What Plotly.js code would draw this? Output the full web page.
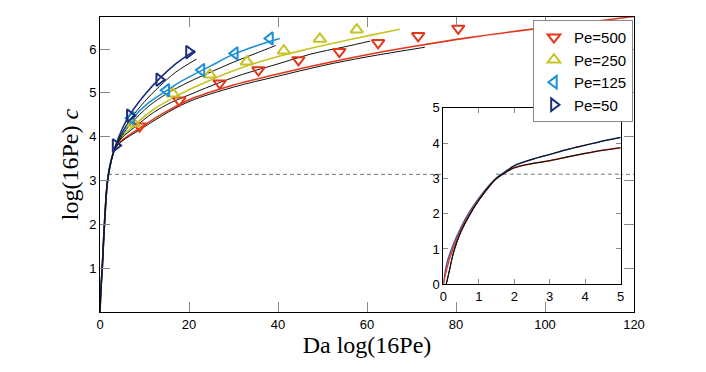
<!DOCTYPE html>
<html>
<head>
<meta charset="utf-8">
<script src="https://cdn.plot.ly/plotly-3.0.1.min.js"></script>
<style>
  body { margin: 0; background: #fff; }
  #chart { width: 706px; height: 372px; }
</style>
</head>
<body>
<div id="chart"></div>
<script>
// main curves (x = Da log(16Pe), y = log(16Pe) c)
const startX = [0, 0.2, 0.5, 1.0, 1.7, 2.5];
const startY = [0, 0.5, 1.0, 2.0, 3.0, 3.45];

const pe50X = [3.5, 5, 6.7, 10, 13.4, 17, 21.3];
const pe50Y = [3.8, 4.18, 4.5, 4.95, 5.33, 5.66, 5.97];
const pe50BlackX = [3.5, 5, 6.7, 10, 13.4, 17, 21.7];
const pe50BlackY = [3.78, 4.1, 4.38, 4.8, 5.15, 5.47, 5.77];

const pe125X = [3.5, 5, 7, 11, 15, 18, 21.7, 25, 29.6, 35, 40.4];
const pe125Y = [3.78, 4.08, 4.38, 4.78, 5.05, 5.25, 5.45, 5.62, 5.86, 6.07, 6.24];
const pe125BlackX = [3.5, 5, 7, 11, 15, 20, 25, 30, 35, 39.5];
const pe125BlackY = [3.76, 4.03, 4.3, 4.7, 4.98, 5.25, 5.48, 5.7, 5.9, 6.08];

const pe250X = [3.5, 5, 7.6, 12, 16.4, 20.2, 25, 32.6, 40, 47.2, 55, 62, 67.4];
const pe250Y = [3.77, 4.0, 4.25, 4.62, 4.88, 5.08, 5.3, 5.6, 5.83, 6.01, 6.19, 6.34, 6.45];
const pe250BlackX = [3.5, 5, 7.6, 12, 16, 20.2, 25, 32, 40, 47.2, 55, 60.7];
const pe250BlackY = [3.76, 3.98, 4.2, 4.55, 4.78, 4.96, 5.16, 5.42, 5.66, 5.88, 6.05, 6.18];

const pe500X = [3.5, 5, 9, 14, 20.2, 24.3, 30, 40, 47.2, 60, 70, 83, 100, 115, 120];
const pe500Y = [3.75, 3.92, 4.2, 4.52, 4.85, 5.0, 5.18, 5.43, 5.6, 5.87, 6.05, 6.26, 6.49, 6.68, 6.74];
const pe500BlackX = [3.5, 5, 9, 14, 20, 30, 40, 50, 60, 73];
const pe500BlackY = [3.74, 3.9, 4.16, 4.48, 4.8, 5.13, 5.38, 5.62, 5.82, 6.04];

// markers
const mk50X = [3.5, 6.7, 13.3, 20.0];
const mk50Y = [3.8, 4.48, 5.3, 5.93];
const mk125X = [7.0, 14.9, 22.8, 30.3, 38.2];
const mk125Y = [4.42, 5.06, 5.52, 5.9, 6.24];
const mk250X = [7.6, 16.4, 24.7, 33.0, 41.3, 49.4, 57.7];
const mk250Y = [4.3, 4.98, 5.41, 5.71, 5.96, 6.23, 6.44];
const mk500X = [8.9, 17.8, 26.9, 35.6, 44.6, 53.8, 62.5, 71.5, 80.5];
const mk500Y = [4.24, 4.83, 5.22, 5.52, 5.75, 5.94, 6.14, 6.3, 6.47];

const dashLevel = 3.14;
const dashX = [1.8, 120];

// inset curves
const inStartX = [0, 0.1, 0.25, 0.5, 0.75, 1, 1.25, 1.5, 1.75];
const inUpperX = [2, 2.5, 3, 3.5, 4, 4.5, 5];
const inUpperY = [3.36, 3.54, 3.68, 3.82, 3.94, 4.06, 4.16];
const inLowerY = [3.3, 3.42, 3.5, 3.61, 3.71, 3.8, 3.87];
const inBlueY = [0, 0.6, 1.05, 1.62, 2.07, 2.44, 2.76, 3.02, 3.2];
const inRedY = [0, 0.45, 0.95, 1.55, 2.02, 2.4, 2.73, 3.0, 3.17];
const inBlackStartX = [0.08, 0.15, 0.3, 0.5, 0.75, 1, 1.25, 1.5, 1.75];
const inBlackY = [0, 0.3, 0.95, 1.5, 1.98, 2.38, 2.72, 3.0, 3.17];
const inDashX = [1.48, 5];
const inDashLevel = 3.12;

const red = '#e4361b';
const yellow = '#c6c424';
const cyan = '#1d8fd6';
const navy = '#1c2d7d';

const cat = (a, b) => a.concat(b);

function curve(x, y, color, width, xa, ya) {
  return {
    x, y, mode: 'lines', showlegend: false, hoverinfo: 'skip',
    line: { color, width, shape: 'spline', smoothing: 1 },
    xaxis: xa || 'x', yaxis: ya || 'y',
  };
}

function marks(x, y, symbol, color, name) {
  return {
    x, y, name, mode: 'markers',
    marker: { symbol, size: 11, color, line: { color, width: 2 } },
  };
}

const data = [
  {
    x: dashX, y: dashX.map(() => dashLevel), mode: 'lines', showlegend: false,
    line: { color: '#777', width: 1, dash: '4px,3px' },
  },
  curve(cat(startX, pe500X), cat(startY, pe500Y), red, 1.6),
  curve(cat(startX, pe500BlackX), cat(startY, pe500BlackY), '#111', 1),
  curve(cat(startX, pe250X), cat(startY, pe250Y), yellow, 1.6),
  curve(cat(startX, pe250BlackX), cat(startY, pe250BlackY), '#111', 1),
  curve(cat(startX, pe125X), cat(startY, pe125Y), cyan, 1.6),
  curve(cat(startX, pe125BlackX), cat(startY, pe125BlackY), '#111', 1),
  curve(cat(startX, pe50X), cat(startY, pe50Y), navy, 1.6),
  curve(cat(startX, pe50BlackX), cat(startY, pe50BlackY), '#111', 1),
  marks(mk500X, mk500Y, 'triangle-down-open', red, 'Pe=500'),
  marks(mk250X, mk250Y, 'triangle-up-open', yellow, 'Pe=250'),
  marks(mk125X, mk125Y, 'triangle-left-open', cyan, 'Pe=125'),
  marks(mk50X, mk50Y, 'triangle-right-open', navy, 'Pe=50'),

  // inset
  {
    x: inDashX, y: inDashX.map(() => inDashLevel), mode: 'lines', showlegend: false,
    line: { color: '#777', width: 1, dash: '4px,3px' }, xaxis: 'x2', yaxis: 'y2',
  },
  curve(cat(inStartX, inUpperX), cat(inBlueY, inUpperY), '#3358a8', 1.4, 'x2', 'y2'),
  curve(cat(inStartX, inUpperX), cat(inRedY, inLowerY), red, 1.4, 'x2', 'y2'),
  curve(cat(inBlackStartX, inUpperX), cat(inBlackY, inUpperY), '#111', 1.1, 'x2', 'y2'),
  curve(cat(inBlackStartX, inUpperX), cat(inBlackY, inLowerY), '#111', 1.1, 'x2', 'y2'),
];

const tickFont = { family: 'Liberation Sans, Arial, sans-serif', size: 13, color: '#000' };
const titleFont = { family: 'Liberation Serif, serif', size: 24, color: '#000' };

const layout = {
  width: 706,
  height: 372,
  margin: { l: 100, r: 72, t: 17, b: 60 },
  paper_bgcolor: '#fff',
  plot_bgcolor: '#fff',
  showlegend: true,
  legend: {
    x: 0.998, y: 0.99, xanchor: 'right', yanchor: 'top',
    bgcolor: '#fff', bordercolor: '#888', borderwidth: 1,
    font: { family: 'Liberation Sans, Arial, sans-serif', size: 15, color: '#000' },
    tracegroupgap: 0, itemwidth: 30,
  },
  xaxis: {
    range: [0, 120],
    tickvals: [0, 20, 40, 60, 80, 100, 120],
    ticks: 'inside', ticklen: 10, tickcolor: '#888', tickwidth: 1,
    showline: true, linecolor: '#000', linewidth: 1, mirror: 'allticks',
    showgrid: false, zeroline: false, tickfont: tickFont,
    title: { text: 'Da log(16Pe)', font: titleFont, standoff: 1 },
  },
  yaxis: {
    range: [0, 6.73],
    tickvals: [1, 2, 3, 4, 5, 6],
    ticks: 'inside', ticklen: 10, tickcolor: '#888', tickwidth: 1,
    showline: true, linecolor: '#000', linewidth: 1, mirror: 'allticks',
    showgrid: false, zeroline: false, tickfont: tickFont,
    title: { text: 'log(16Pe) <i>c</i>', font: titleFont, standoff: 3 },
  },
  xaxis2: {
    domain: [0.643, 0.975], anchor: 'y2',
    range: [0, 5], tickvals: [0, 1, 2, 3, 4, 5],
    ticks: 'inside', ticklen: 5, tickcolor: '#888',
    showline: true, linecolor: '#000', linewidth: 1, mirror: 'allticks',
    showgrid: false, zeroline: false, tickfont: tickFont,
  },
  yaxis2: {
    domain: [0.094, 0.692], anchor: 'x2',
    range: [0, 5], tickvals: [0, 1, 2, 3, 4, 5],
    ticks: 'inside', ticklen: 5, tickcolor: '#888',
    showline: true, linecolor: '#000', linewidth: 1, mirror: 'allticks',
    showgrid: false, zeroline: false, tickfont: tickFont,
  },
};

Plotly.newPlot('chart', data, layout, { staticPlot: true });
</script>
</body>
</html>
